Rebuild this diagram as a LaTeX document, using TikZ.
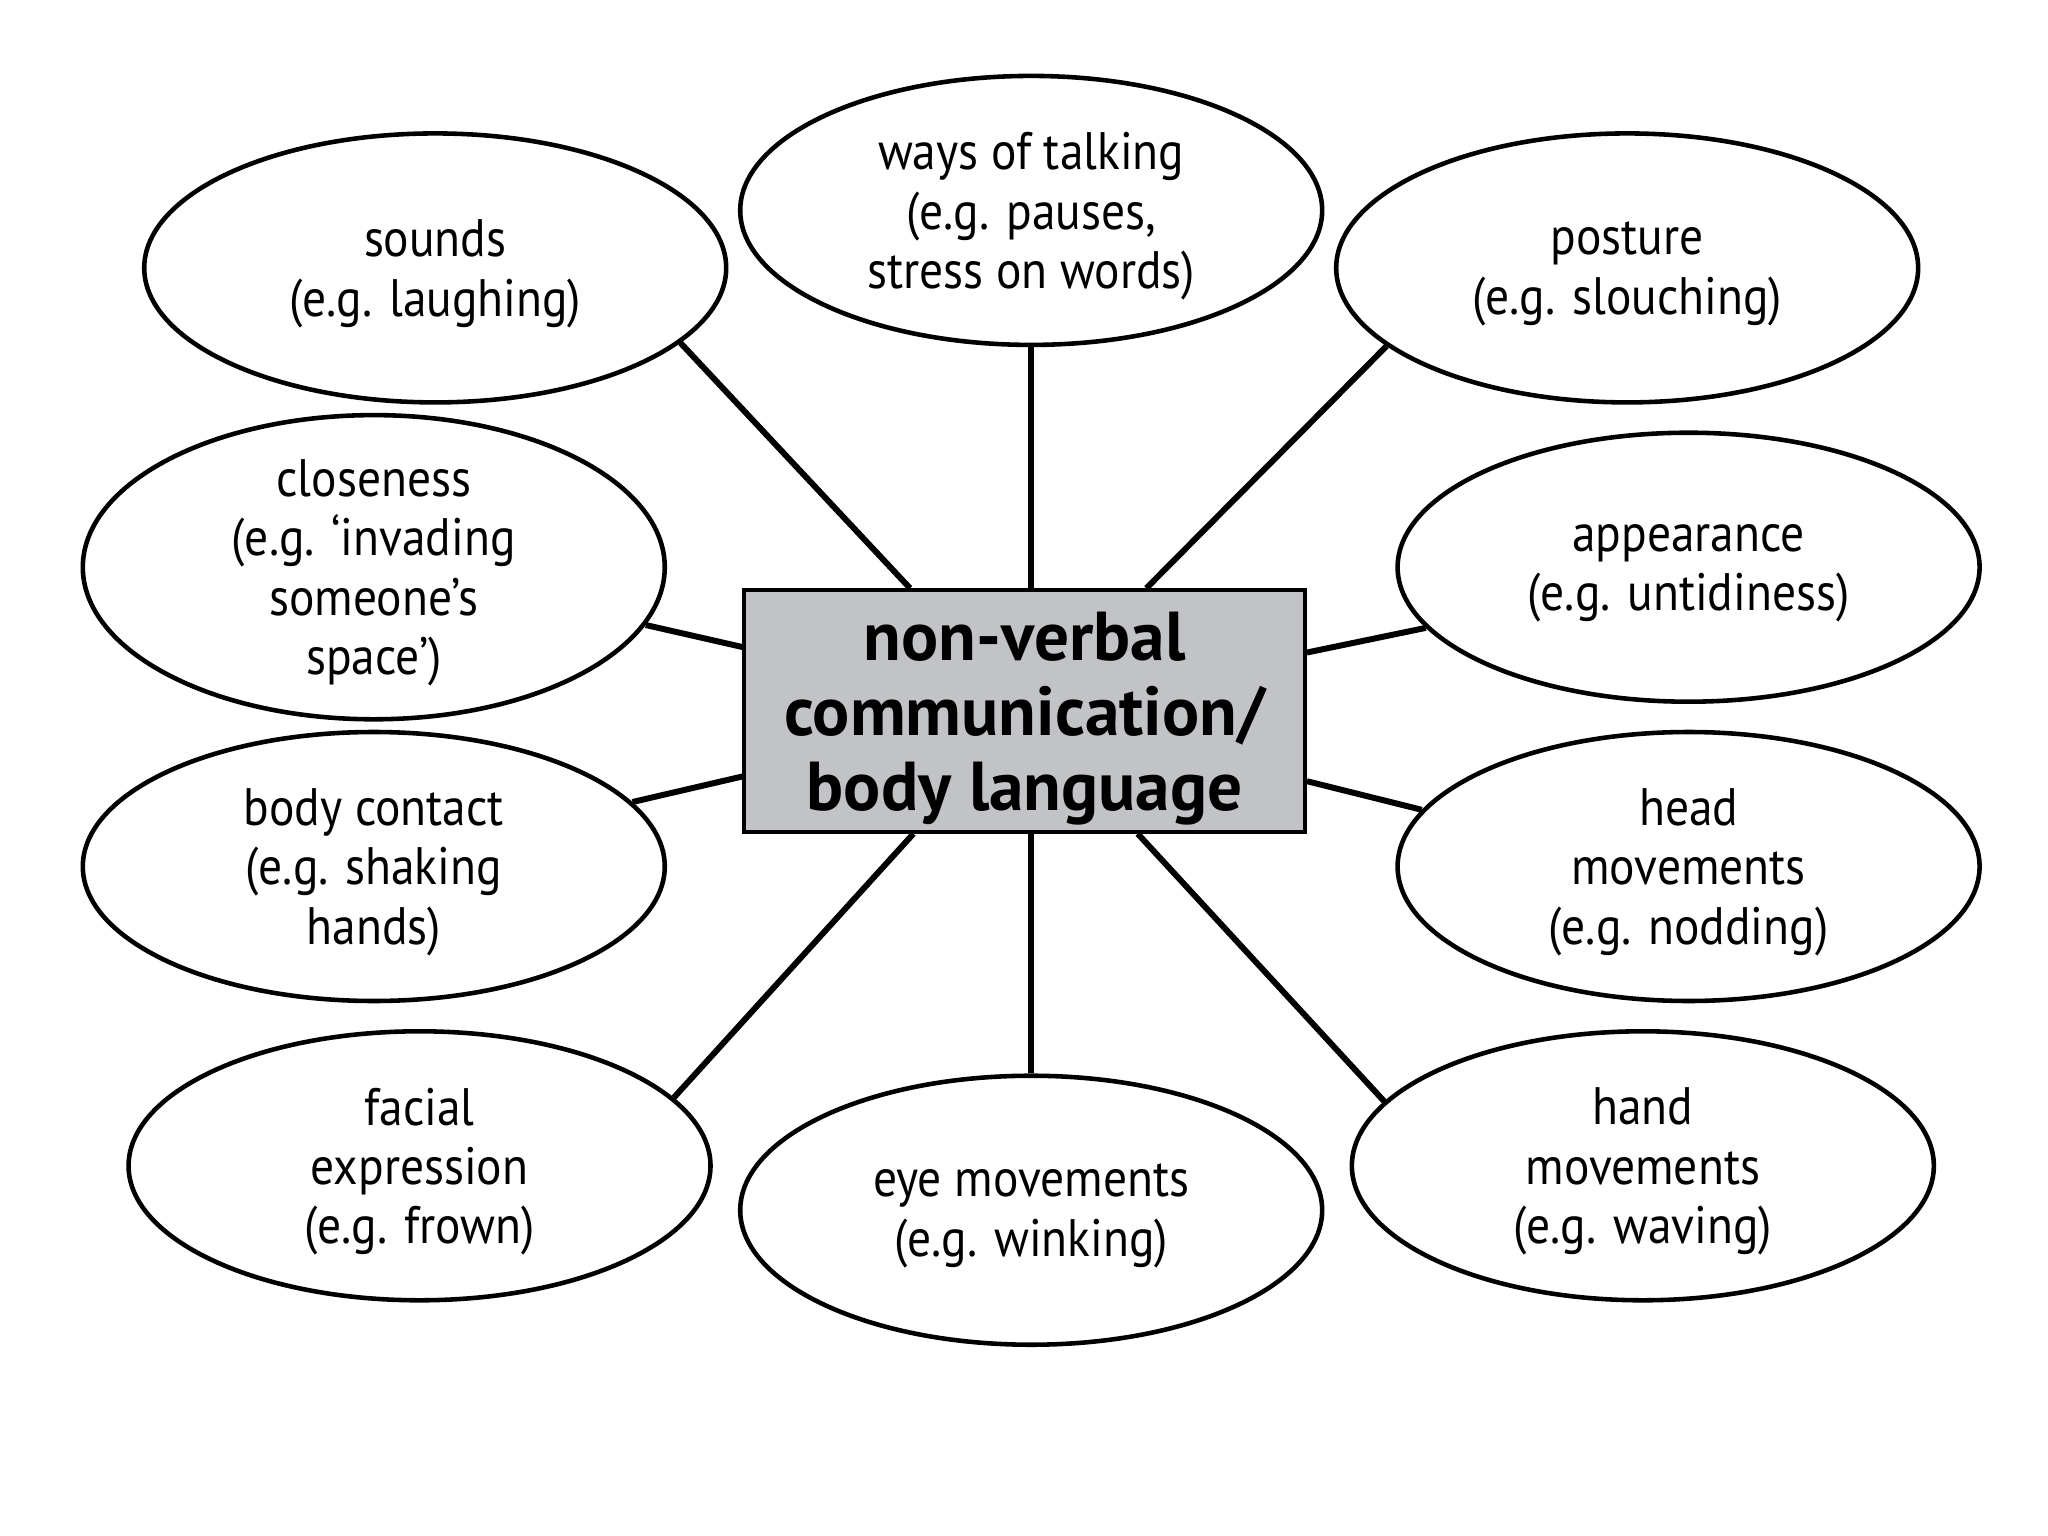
\documentclass[tikz,border=0pt]{standalone}
\usepackage{fontspec}
\setmainfont{PT Sans}
\newfontfamily\ovalfont[FakeStretch=0.9]{PT Sans}
\usetikzlibrary{positioning,shapes}
\definecolor{hubgray}{RGB}{193,195,199}

\begin{document}
\begin{tikzpicture}[x=0.1307mm, y=-0.1307mm,
      inner sep=0pt, semithick,
      oval/.style={ellipse, draw, line width=1.3pt, minimum width=58.2mm,
        minimum height=26.9mm, align=center, text depth=0pt,
        font=\ovalfont\fontsize{15}{16.9}\selectfont},
      hub/.style={rectangle, draw, line width=1pt, fill=hubgray,
        minimum width=56.1mm, minimum height=24.2mm, align=center,
        text depth=0pt, font=\bfseries\fontsize{19.7}{21.4}\selectfont},
      spoke/.style={line width=1.7pt}]
      \useasboundingbox (0,0) rectangle (1567,1175);
      % centre
      \node[hub] (hub) at (784,544) {non-verbal\\communication/\\body language};
      % top row
      \node[oval] (sounds) at (333,205) {sounds\\(e.g. laughing)};
      \node[oval] (talking) at (789,161) {ways of talking\\(e.g. pauses,\\stress on words)};
      \node[oval] (posture) at (1245,205) {posture\\(e.g. slouching)};
      % middle rows
      \node[oval] (closeness) at (286,434) {closeness\\(e.g. ‘invading\\someone’s\\space’)};
      \node[oval] (appearance) at (1292,434) {appearance\\(e.g. untidiness)};
      \node[oval] (contact) at (286,663) {body contact\\(e.g. shaking\\hands)};
      \node[oval] (head) at (1292,663) {head\\movements\\(e.g. nodding)};
      % bottom row
      \node[oval] (facial) at (321,892) {facial\\expression\\(e.g. frown)};
      \node[oval] (eye) at (789,926) {eye movements\\(e.g. winking)};
      \node[oval] (hand) at (1257,892) {hand\\movements\\(e.g. waving)};
      % spokes
      \path[spoke] (hub) edge (sounds.-17.6);
      \path[spoke] (talking.south) edge (talking.south |- hub.north);
      \path[spoke] (hub) edge (posture.198);
      \path[spoke] (hub) edge (closeness.-12.6);
      \path[spoke] (hub) edge (appearance.193);
      \path[spoke] (hub) edge (contact.14.8);
      \path[spoke] (hub) edge (head.168.4);
      \path[spoke] (hub) edge (facial.15.9);
      \path[spoke] (eye.north) edge (eye.north |- hub.south);
      \path[spoke] (hub) edge (hand.166.7);
  \end{tikzpicture}
\end{document}
